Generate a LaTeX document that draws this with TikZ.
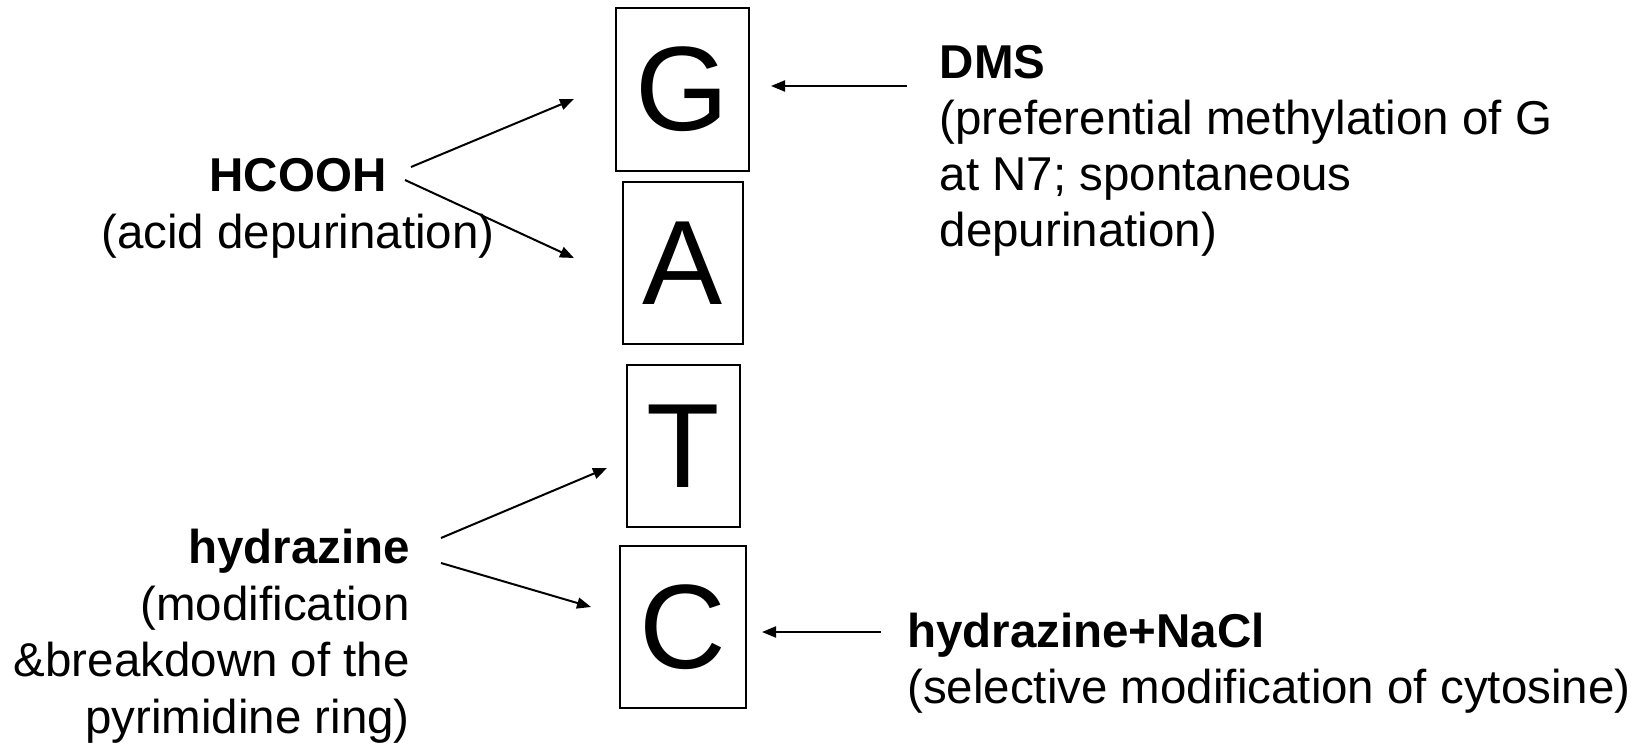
\documentclass[tikz,border=0pt]{standalone}
\usepackage{fontspec}
\setmainfont{Liberation Sans}
\usetikzlibrary{arrows.meta}
\tikzset{
  base/.style={draw=black, line width=2pt, inner sep=0pt, font=\fontsize{120}{120}\selectfont},
  lab/.style={inner sep=0pt, font=\fontsize{47.5}{56.5}\selectfont},
  arr/.style={line width=2pt, -{Triangle[length=14pt,width=11pt]}}
}
\begin{document}
\begin{tikzpicture}[x=1pt,y=-1pt]
\useasboundingbox (0,0) rectangle (1644,746);
% bases
\node[base, minimum width=133pt, minimum height=163pt] (G) at (682.5,89.5) {G};
\node[base, minimum width=120pt, minimum height=162pt] (A) at (683,263) {A};
\node[base, minimum width=113pt, minimum height=162pt] (T) at (683.5,446) {T};
\node[base, minimum width=126pt, minimum height=162pt] (C) at (683,627) {C};
% labels
\node[lab, anchor=base] (hcooh) at (298,192) {\textbf{HCOOH}};
\node[lab, anchor=base] (hcoohd) at (298,248.5) {(acid depurination)};
\node[lab, anchor=base east] (hyd) at (410,563) {\textbf{hydrazine}};
\node[lab, anchor=base east] (hyd1) at (410,620) {(modification};
\node[lab, anchor=base east] (hyd2) at (410,676.5) {\&breakdown of the};
\node[lab, anchor=base east] (hyd3) at (410,733) {pyrimidine ring)};
\node[lab, anchor=base west] (dms) at (939.5,78.6) {\textbf{DMS}};
\node[lab, anchor=base west] (dms1) at (939.5,134.5) {(preferential methylation of G};
\node[lab, anchor=base west] (dms2) at (939.5,190.5) {at N7; spontaneous};
\node[lab, anchor=base west] (dms3) at (939.5,246.5) {depurination)};
\node[lab, anchor=base west] (nacl) at (907,647) {\textbf{hydrazine+NaCl}};
\node[lab, anchor=base west] (nacl1) at (907,703.5) {(selective modification of cytosine)};
% arrow ends
\coordinate (h1s) at (411,167);  \coordinate (h1e) at (574,99);
\coordinate (h2s) at (405,180);  \coordinate (h2e) at (574,258);
\coordinate (z1s) at (441,538);  \coordinate (z1e) at (607,468);
\coordinate (z2s) at (441,563);  \coordinate (z2e) at (591,607);
\coordinate (ds) at (907,86);    \coordinate (de) at (771,86);
\coordinate (ns) at (881,632);   \coordinate (ne) at (762,632);
\draw[arr] (h1s) -- (h1e);
\draw[arr] (h2s) -- (h2e);
\draw[arr] (z1s) -- (z1e);
\draw[arr] (z2s) -- (z2e);
\draw[arr] (ds) -- (de);
\draw[arr] (ns) -- (ne);
\end{tikzpicture}
\end{document}
